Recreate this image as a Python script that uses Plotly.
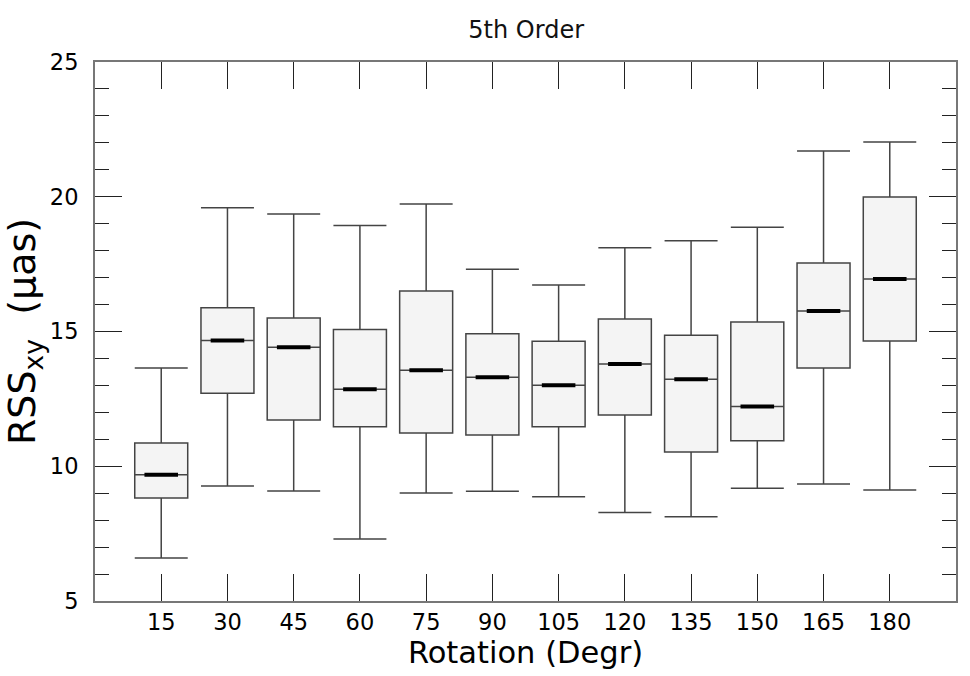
import plotly.graph_objects as go

rotation = [15, 30, 45, 60, 75, 90, 105, 120, 135, 150, 165, 180]
lower_whisker = [6.60, 9.27, 9.08, 7.30, 9.01, 9.07, 8.87, 8.28, 8.13, 9.18, 9.34, 9.12]
q1 = [8.82, 12.71, 11.72, 11.47, 11.23, 11.16, 11.47, 11.90, 10.53, 10.95, 13.65, 14.65]
median = [9.68, 14.67, 14.42, 12.86, 13.56, 13.30, 13.01, 13.79, 13.23, 12.22, 15.76, 16.95]
q3 = [10.86, 15.88, 15.50, 15.07, 16.50, 14.92, 14.64, 15.46, 14.86, 15.35, 17.54, 19.99]
upper_whisker = [13.65, 19.59, 19.36, 18.93, 19.73, 17.31, 16.73, 18.11, 18.37, 18.87, 21.70, 22.03]

BOX_W = 12.0
MED_HALF = 3.8
FONT = "DejaVu Sans"

fig = go.Figure()
fig.add_trace(go.Box(
    x=rotation, q1=q1, median=median, q3=q3,
    lowerfence=lower_whisker, upperfence=upper_whisker,
    width=BOX_W, whiskerwidth=1,
    fillcolor="#f4f4f4",
    line=dict(color="#444444", width=1.5),
    boxpoints=False, showlegend=False, hoverinfo="skip",
))

mx, my = [], []
for r, m in zip(rotation, median):
    mx += [r - MED_HALF, r + MED_HALF, None]
    my += [m, m, None]
fig.add_trace(go.Scatter(x=mx, y=my, mode="lines",
                         line=dict(color="black", width=4),
                         showlegend=False, hoverinfo="skip"))

fig.update_layout(
    width=970, height=676,
    margin=dict(l=95, r=14, t=62, b=75),
    paper_bgcolor="white", plot_bgcolor="white",
    font=dict(family=FONT, color="black"),
    title=dict(text="5th Order", x=0.5425, xanchor="center",
               y=1 - 30 / 676, yanchor="middle", yref="container",
               font=dict(size=24, family=FONT, color="#111")),
)
fig.update_xaxes(
    range=[0, 195], tickvals=rotation, ticktext=[str(r) for r in rotation],
    ticks="inside", ticklen=27, tickwidth=1.2, tickcolor="#222",
    showline=True, linecolor="#777777", linewidth=2, mirror="allticks",
    showgrid=False, zeroline=False,
    tickfont=dict(size=22.5, family=FONT, color="black"),
    ticklabelstandoff=0,
    title=dict(text="Rotation (Degr)", font=dict(size=30.5, family=FONT, color="black"), standoff=2),
)
fig.update_yaxes(
    range=[5, 25], tickvals=[5, 10, 15, 20, 25],
    ticks="inside", ticklen=27, tickwidth=1.2, tickcolor="#222",
    minor=dict(dtick=1, ticks="inside", ticklen=14, tickwidth=1.2, tickcolor="#222", showgrid=False),
    showline=True, linecolor="#777777", linewidth=2, mirror="allticks",
    showgrid=False, zeroline=False,
    tickfont=dict(size=22.5, family=FONT, color="black"),
    ticklabelstandoff=10,
    title=dict(text="RSS<sub>xy</sub>  (μas)", font=dict(size=38, family=FONT, color="black"), standoff=8),
)

fig.write_html("out.html")
